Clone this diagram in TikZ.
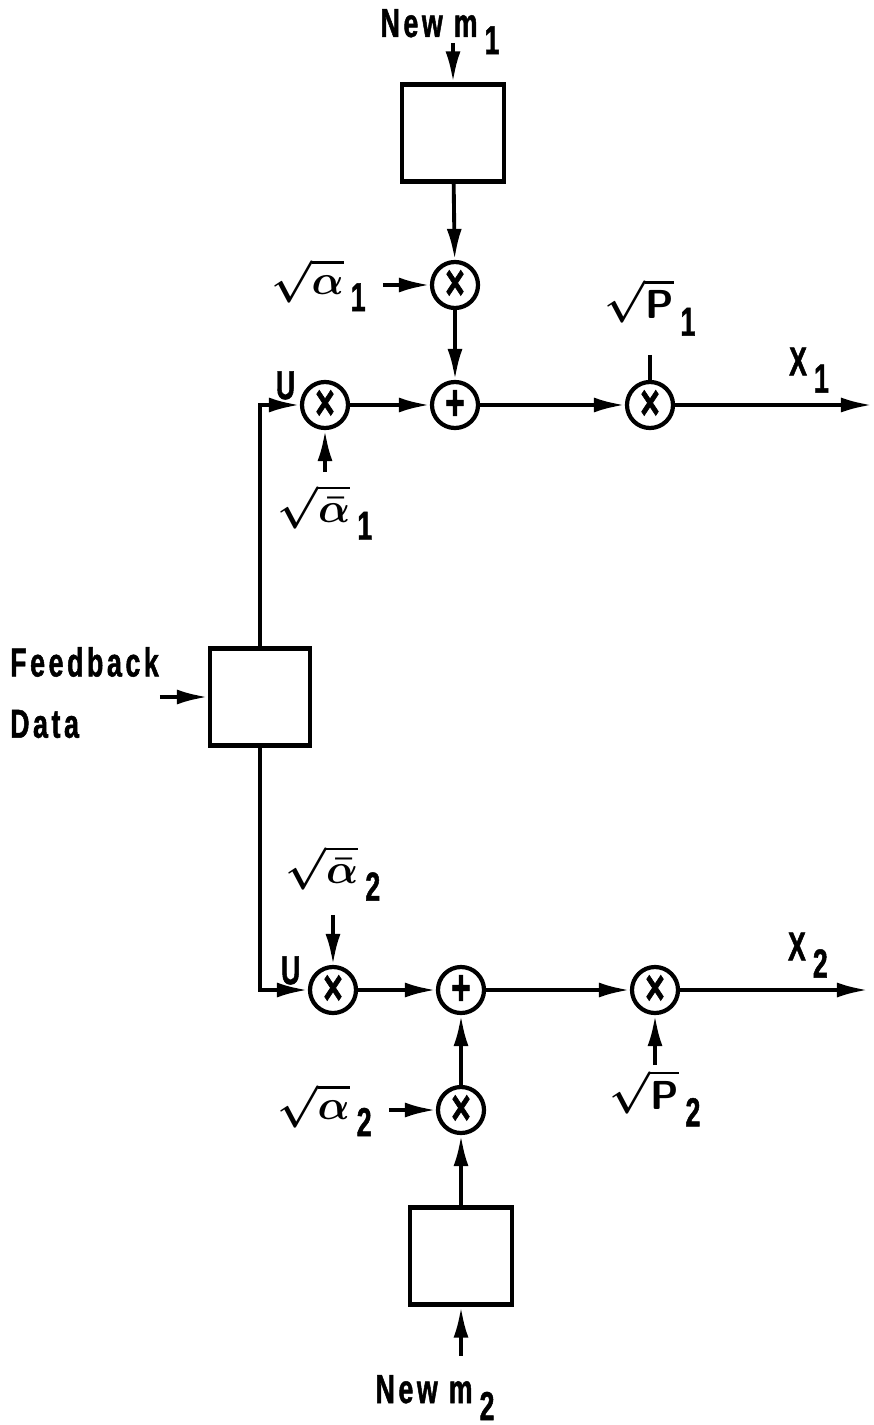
\documentclass[tikz,border=0pt]{standalone}
\usepackage{fontspec}
\setmainfont{Liberation Sans}[FakeStretch=0.66,LetterSpace=9,BoldFeatures={FakeBold=1.2}]
\usepackage{tikz}
\usetikzlibrary{positioning}
\usetikzlibrary{arrows.meta}

\tikzset{
	blk/.style={draw, line width=1.2pt, minimum width=10.2mm, minimum height=9.7mm, inner sep=0pt},
	op/.style={draw, circle, line width=1.2pt, minimum size=4.6mm, inner sep=0pt, font=\bfseries\Large},
	sig/.style={line width=1.1pt, -{Latex[length=3.1mm,width=1.5mm]}},
	wire/.style={line width=1.1pt},
	lbl/.style={font=\bfseries\boldmath\fontsize{11.5}{13}\selectfont, inner sep=1pt},
}
\newcommand{\lowsub}[1]{\kern2pt\raisebox{-0.8ex}{#1}}
\newcommand{\rootlbl}[2]{$\sqrt{#1}$\lowsub{#2}}

\begin{document}
\begin{tikzpicture}[x=0.01cm, y=-0.01cm]
	\useasboundingbox (0,0) rectangle (874,1425);
	
	% upper branch
	\node [blk] at (453,133) (1Box) {}; \node [lbl, anchor=base] at (440,37) (1New) {New m\lowsub{1}};
	\node [op] at (455,285) (1Mul) {×}; \node [lbl, left=6mm of 1Mul] (1Alpha) {\rootlbl{\alpha}{1}};
	\node [op] at (455,405) (1Sum) {+}; \node [op] at (325,405) (1Pre) {×};
	\node [lbl, below=5mm of 1Pre] (1Bar) {\rootlbl{\bar\alpha}{1}};
	\node [op] at (650,405) (1Gate) {×}; \node [lbl, above=4mm of 1Gate] (1Pow) {\rootlbl{\mathsf{P}}{1}};
	\coordinate (1End) at (872,405);
	
	% feedback block
	\node [blk, minimum width=10mm] at (260,697) (FbBox) {};
	\node [lbl, anchor=west] at (6,662) (FbTxt) {Feedback}; \node [lbl, anchor=west] at (6,724) (FbData) {Data};
	\coordinate [left=4.8mm of FbBox] (FbIn);
	
	% lower branch
	\node [op] at (333,990) (2Pre) {×}; \node [lbl, above=6mm of 2Pre] (2Bar) {\rootlbl{\bar\alpha}{2}};
	\node [op] at (461,990) (2Sum) {+}; \node [op] at (461,1110) (2Mul) {×};
	\node [lbl, left=6mm of 2Mul] (2Alpha) {\rootlbl{\alpha}{2}};
	\node [op] at (655,990) (2Gate) {×}; \node [lbl, below=5mm of 2Gate] (2Pow) {\rootlbl{\mathsf{P}}{2}};
	\node [blk] at (461,1256) (2Box) {}; \node [lbl, anchor=base] at (435,1403) (2New) {New m\lowsub{2}};
	\coordinate (2End) at (868,990);
	
	\draw[sig, shorten <=0.6mm] (1New.base -| 1Box) -- (1Box); \draw[sig] (1Box) -- (1Mul); \draw[sig, shorten <=1.3mm] (1Alpha) -- (1Mul);
	\draw[sig] (1Mul) -- (1Sum); \draw[sig] (1Pre) -- (1Sum); \draw[sig, shorten <=0.8mm] (1Bar) -- (1Pre);
	\draw[sig] (1Sum) -- (1Gate); \draw[wire, shorten <=1.5mm] (1Pow) -- (1Gate);
	\draw[sig] (1Gate) -- (1End) node [lbl, pos=0.68, above=2pt] {X\lowsub{1}};
	
	\draw[sig] (FbIn) -- (FbBox);
	\draw[sig] (FbBox.north) |- (1Pre) node [lbl, pos=0.82, above] {U};
	\draw[sig] (FbBox.south) |- (2Pre) node [lbl, pos=0.82, above] {U};
	
	\draw[sig, shorten <=1mm] (2Bar) -- (2Pre); \draw[sig] (2Pre) -- (2Sum); \draw[sig] (2Mul) -- (2Sum);
	\draw[sig, shorten <=1.3mm] (2Alpha) -- (2Mul); \draw[sig] (2Box) -- (2Mul); \draw[sig, shorten <=1.5mm] (2New.north -| 2Box) -- (2Box);
	\draw[sig] (2Sum) -- (2Gate); \draw[sig] (2Pow) -- (2Gate);
	\draw[sig] (2Gate) -- (2End) node [lbl, pos=0.68, above=2pt] {X\lowsub{2}};
	
\end{tikzpicture}
\end{document}
